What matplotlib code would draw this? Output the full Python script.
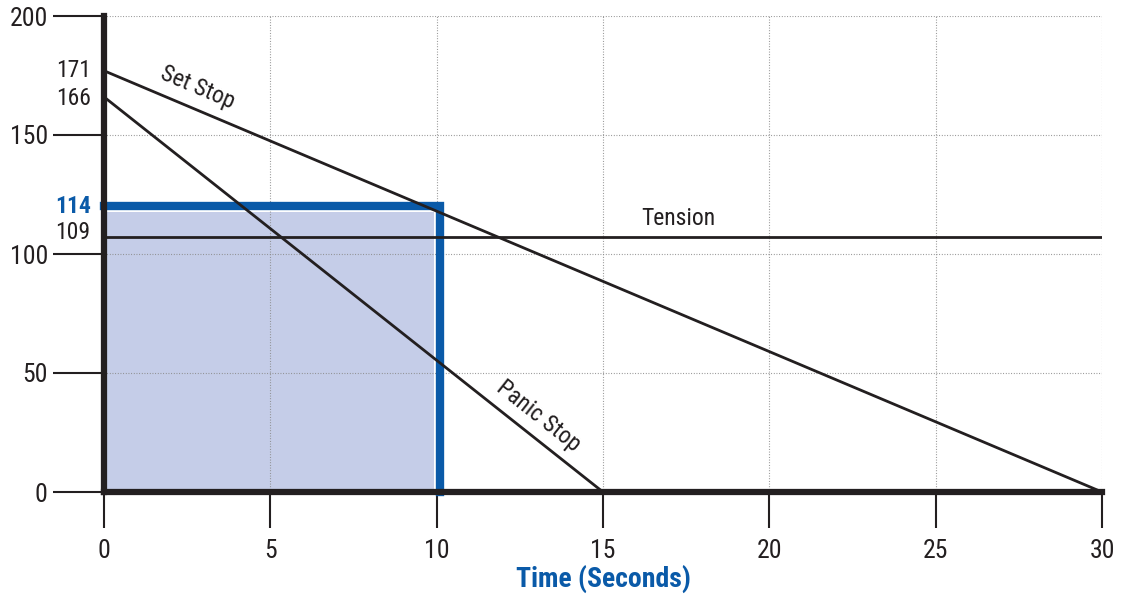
import matplotlib
matplotlib.use("Agg")
import matplotlib.pyplot as plt
from matplotlib import font_manager
import numpy as np

# Values as drawn in the picture
set_stop_x = [0, 30]
set_stop_y = [177, 0]
panic_stop_x = [0, 15]
panic_stop_y = [166, 0]
tension_y = 107
box_x = 10.1
box_y = 120

# Labels printed next to the y axis (text, value position)
side_labels = ["171", "166", "114", "109"]
side_label_y = [177, 165.5, 120, 109]

x_ticks = [0, 5, 10, 15, 20, 25, 30]
y_ticks = [0, 50, 100, 150, 200]

dark = "#231f20"
blue = "#0a5aa8"
fill = "#c5cde8"

# pick a narrow font if one is around
names = {f.name for f in font_manager.fontManager.ttflist}
narrow = None
for cand in ["Liberation Sans Narrow", "Roboto Condensed", "Open Sans Condensed",
             "Noto Sans Condensed", "DejaVu Sans Condensed"]:
    if cand in names:
        narrow = cand
        break
if narrow:
    plt.rcParams["font.family"] = [narrow, "DejaVu Sans"]
else:
    plt.rcParams["font.family"] = ["DejaVu Sans"]
    plt.rcParams["font.stretch"] = "condensed"

fig = plt.figure(figsize=(11.27, 5.95), dpi=100)
ax = fig.add_axes([104 / 1127, 103 / 595, 998 / 1127, 476 / 595])
ax.set_xlim(0, 30)
ax.set_ylim(0, 200)

# shaded area and blue box
ax.fill_between([0, box_x - 0.17], 0, box_y - 2.4, color=fill, lw=0, zorder=0.5)
ax.plot([0, box_x, box_x], [box_y, box_y, 0], color=blue, lw=6, zorder=3,
        solid_joinstyle="miter", clip_on=False)

# grid
for gx in x_ticks[1:]:
    ax.axvline(gx, color="#8a8a8a", lw=0.8, ls=(0, (0.8, 1.6)), zorder=1)
for gy in y_ticks[1:]:
    ax.axhline(gy, color="#8a8a8a", lw=0.8, ls=(0, (0.8, 1.6)), zorder=1)

# lines
ax.plot(set_stop_x, set_stop_y, color=dark, lw=2.0, zorder=4, clip_on=False)
ax.plot(panic_stop_x, panic_stop_y, color=dark, lw=2.0, zorder=4, clip_on=False)
ax.axhline(tension_y, color=dark, lw=2.0, zorder=4)

# spines
for s in ["top", "right"]:
    ax.spines[s].set_visible(False)
for s in ["left", "bottom"]:
    ax.spines[s].set_linewidth(4.5)
    ax.spines[s].set_color(dark)
    ax.spines[s].set_zorder(5)

ax.set_xticks(x_ticks)
ax.set_yticks(y_ticks)
ax.tick_params(axis="y", length=37, width=1.5, color=dark, pad=3.5,
               labelsize=18.5, labelcolor=dark)
ax.tick_params(axis="x", length=26, width=1.5, color=dark, pad=8,
               labelsize=18.5, labelcolor=dark)

ax.set_xlabel("Time (Seconds)", fontsize=20, fontweight="bold", color=blue,
              labelpad=1)

# side labels
for txt, yv in zip(side_labels, side_label_y):
    ax.text(-0.4, yv, txt, ha="right", va="center", fontsize=17,
            color=blue if txt == "114" else dark,
            fontweight="bold" if txt == "114" else "normal", clip_on=False)


def angle_of(x0, y0, x1, y1):
    p0 = ax.transData.transform((x0, y0))
    p1 = ax.transData.transform((x1, y1))
    return np.degrees(np.arctan2(p1[1] - p0[1], p1[0] - p0[0]))


ax.text(2.8, 170, "Set Stop", rotation=angle_of(0, 177, 30, 0),
        rotation_mode="anchor", ha="center", va="center", fontsize=17,
        color=dark)
ax.text(13.05, 32, "Panic Stop", rotation=angle_of(0, 166, 15, 0),
        rotation_mode="anchor", ha="center", va="center", fontsize=17,
        color=dark)
ax.text(17.25, 115, "Tension", ha="center", va="center", fontsize=17,
        color=dark)

fig.savefig("out.png", dpi=100)
